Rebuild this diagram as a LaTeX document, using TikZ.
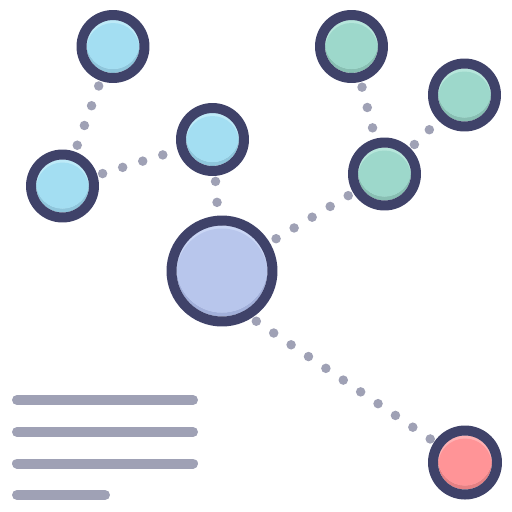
\documentclass[tikz,border=0pt]{standalone}
\usetikzlibrary{calc}
\definecolor{ringcol}{HTML}{3F4269}
\definecolor{dotcol}{HTML}{9FA1B5}
\definecolor{bluemain}{HTML}{A3DEF2}
\definecolor{bluelight}{HTML}{BDEAF8}
\definecolor{bluedark}{HTML}{8FC6DC}
\definecolor{greenmain}{HTML}{9DD8CB}
\definecolor{greenlight}{HTML}{B6E6DB}
\definecolor{greendark}{HTML}{88BFB3}
\definecolor{purplemain}{HTML}{B8C6EC}
\definecolor{purplelight}{HTML}{CAD6F5}
\definecolor{purpledark}{HTML}{A2B0DA}
\definecolor{redmain}{HTML}{FF9497}
\definecolor{redlight}{HTML}{FFB1B3}
\definecolor{reddark}{HTML}{E58184}
% bubble: centre, outer radius, colour prefix
\newcommand\bubble[3]{%
	\fill[#3dark] (#1) circle (#2-10);
	\begin{scope}
		\clip (#1) circle (#2-10);
		\fill[#3light] ([yshift=4pt]#1) circle (#2-10);
		\clip ([yshift=4pt]#1) circle (#2-10);
		\fill[#3main] ([yshift=-3pt]#1) circle (#2-10);
	\end{scope}
	\draw[ring] (#1) circle (#2-5);
}
\begin{document}
\begin{tikzpicture}[x=1pt, y=-1pt, line join=round, line cap=round]
	\tikzset{ring/.style={draw=ringcol, line width=10pt},
		dotline/.style={draw=dotcol, line width=9.5pt, dash pattern=on 0pt off 21pt},
		textline/.style={draw=dotcol, line width=10pt}}
	\useasboundingbox (0,0) rectangle (512,512);
	%centres
	\coordinate (a) at (113,46.5);
	\coordinate (b) at (62.5,186);
	\coordinate (c) at (212.5,139.5);
	\coordinate (d) at (222,271);
	\coordinate (dlow) at (222,298);
	\coordinate (e) at (351.5,46.5);
	\coordinate (f) at (464.5,95);
	\coordinate (g) at (384.5,174);
	\coordinate (h) at (465,462.5);
	%dotted links
	\draw[dotline] (a) -- (b);
	\draw[dotline] (b) -- (c);
	\draw[dotline] (c) -- (d);
	\draw[dotline] (d) -- (g);
	\draw[dotline] (e) -- (g);
	\draw[dotline] (g) -- (f);
	\draw[dotline] (h) -- (dlow);
	%bubbles
	\bubble{a}{36.5}{blue}
	\bubble{b}{36.5}{blue}
	\bubble{c}{36.5}{blue}
	\bubble{d}{55.5}{purple}
	\bubble{e}{36.5}{green}
	\bubble{f}{36.5}{green}
	\bubble{g}{36.5}{green}
	\bubble{h}{37}{red}
	%text lines
	\coordinate (t1l) at (17,400); \coordinate (t1r) at (193,400);
	\coordinate (t2l) at (17,432); \coordinate (t2r) at (193,432);
	\coordinate (t3l) at (17,463.5); \coordinate (t3r) at (193,463.5);
	\coordinate (t4l) at (17,495); \coordinate (t4r) at (105,495);
	\draw[textline] (t1l) -- (t1r);
	\draw[textline] (t2l) -- (t2r);
	\draw[textline] (t3l) -- (t3r);
	\draw[textline] (t4l) -- (t4r);
\end{tikzpicture}
\end{document}
